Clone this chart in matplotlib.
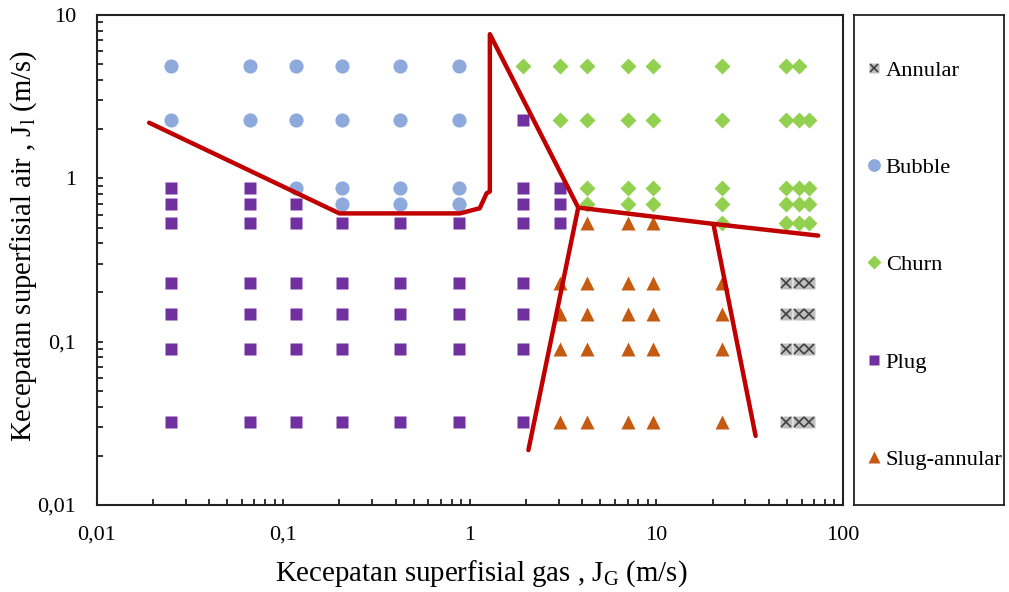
import matplotlib
matplotlib.use("Agg")
import matplotlib.pyplot as plt
from matplotlib.ticker import FixedLocator, FixedFormatter, LogLocator, NullFormatter

plt.rcParams['font.family'] = ['Liberation Serif', 'DejaVu Serif']
plt.rcParams['mathtext.fontset'] = 'custom'
plt.rcParams['mathtext.rm'] = 'Liberation Serif'

# ---- data (J_G, J_l in m/s) ----
bubble_x = [0.025, 0.066, 0.117, 0.206, 0.421, 0.874,
            0.025, 0.066, 0.117, 0.206, 0.421, 0.874,
            0.117, 0.206, 0.421, 0.874,
            0.206, 0.421, 0.874]
bubble_y = [4.88] * 6 + [2.28] * 6 + [0.877] * 4 + [0.697] * 3

plug_x = ([0.025] * 7 + [0.066] * 7 + [0.117] * 6 + [0.206] * 5 + [0.421] * 5
          + [0.874] * 5 + [1.93] * 8 + [3.04] * 3)
plug_y = ([0.877, 0.697, 0.535, 0.228, 0.147, 0.0899, 0.0324] * 2
          + [0.697, 0.535, 0.228, 0.147, 0.0899, 0.0324]
          + [0.535, 0.228, 0.147, 0.0899, 0.0324] * 3
          + [2.28, 0.877, 0.697, 0.535, 0.228, 0.147, 0.0899, 0.0324]
          + [0.877, 0.697, 0.535])

churn_x = ([1.93, 3.04, 4.24, 7.04, 9.58, 22.4, 49.4, 58.0]
           + [3.04, 4.24, 7.04, 9.58, 22.4, 49.4, 58.0, 65.6]
           + [4.24, 7.04, 9.58, 22.4, 49.4, 58.0, 65.6]
           + [4.24, 7.04, 9.58, 22.4, 49.4, 58.0, 65.6]
           + [22.4, 49.4, 58.0, 65.6])
churn_y = [4.88] * 8 + [2.28] * 8 + [0.877] * 7 + [0.697] * 7 + [0.535] * 4

slug_x = [4.24, 7.04, 9.58] + [3.04, 4.24, 7.04, 9.58, 22.4] * 4
slug_y = [0.535] * 3 + [0.228] * 5 + [0.147] * 5 + [0.0899] * 5 + [0.0324] * 5

annular_x = [49.4, 58.0, 65.6] * 4
annular_y = [0.228] * 3 + [0.147] * 3 + [0.0899] * 3 + [0.0324] * 3

# transition boundaries
b1_x = [0.0191, 0.20, 0.885, 1.13, 1.23, 1.28, 1.28, 3.81, 20.2, 73.6]
b1_y = [2.19, 0.61, 0.61, 0.656, 0.81, 0.83, 7.63, 0.662, 0.526, 0.446]
b2_x = [3.81, 2.06]
b2_y = [0.662, 0.0217]
b3_x = [20.2, 34.0]
b3_y = [0.526, 0.0265]

x_ticks = [0.01, 0.1, 1, 10, 100]
x_labels = ['0,01', '0,1', '1', '10', '100']
y_ticks = [0.01, 0.1, 1, 10]
y_labels = ['0,01', '0,1', '1', '10']

# ---- figure ----
W, H = 1009, 592
fig = plt.figure(figsize=(W / 100, H / 100), dpi=100)
ax = fig.add_axes([96.7 / W, 1 - 505 / H, (843 - 96.7) / W, (505 - 15) / H])

red = '#C00000'
for bx, by in [(b1_x, b1_y), (b2_x, b2_y), (b3_x, b3_y)]:
    ax.plot(bx, by, color=red, lw=3.2, solid_capstyle='round',
            solid_joinstyle='round', zorder=3)

h_bub, = ax.plot(bubble_x, bubble_y, 'o', ms=10.2, color='#8EA9DB', mec='none', zorder=2)
h_churn, = ax.plot(churn_x, churn_y, 'D', ms=8.3, color='#92D050', mec='none', zorder=2)
h_plug, = ax.plot(plug_x, plug_y, 's', ms=8.4, color='#7030A0', mec='none', zorder=2)
h_slug, = ax.plot(slug_x, slug_y, '^', ms=9.5, color='#C55A11', mec='none', zorder=2)
h_ann1, = ax.plot(annular_x, annular_y, 's', ms=8.6, color='#BFBFBF', mec='none', zorder=2)
h_ann2, = ax.plot(annular_x, annular_y, 'x', ms=7, color='#404040', mew=1.2, zorder=2)

ax.set_xscale('log')
ax.set_yscale('log')
ax.set_xlim(0.01, 100)
ax.set_ylim(0.01, 10)

ax.xaxis.set_major_locator(FixedLocator(x_ticks))
ax.xaxis.set_major_formatter(FixedFormatter(x_labels))
ax.yaxis.set_major_locator(FixedLocator(y_ticks))
ax.yaxis.set_major_formatter(FixedFormatter(y_labels))
ax.xaxis.set_minor_locator(LogLocator(base=10, subs=range(2, 10)))
ax.yaxis.set_minor_locator(LogLocator(base=10, subs=range(2, 10)))
ax.xaxis.set_minor_formatter(NullFormatter())
ax.yaxis.set_minor_formatter(NullFormatter())
ax.tick_params(which='both', direction='in', length=4, width=1.3, color='#222222')
ax.tick_params(which='major', labelsize=16)
ax.tick_params(axis='x', which='major', pad=15)
ax.tick_params(axis='y', which='major', pad=15)

for s in ax.spines.values():
    s.set_linewidth(1.5)
    s.set_color('#222222')

ax.set_xlabel(r'Kecepatan superfisial gas , J$\mathregular{_G}$ (m/s)', fontsize=20.8)
ax.set_ylabel(r'Kecepatan superfisial air , J$\mathregular{_l}$ (m/s)', fontsize=20.6)
ax.xaxis.set_label_coords(0.5156, -0.108)
ax.yaxis.set_label_coords(-0.077, 0.5286)

# ---- legend box ----
lax = fig.add_axes([854 / W, 1 - 505 / H, (1004 - 854) / W, (505 - 15) / H])
lax.set_xticks([])
lax.set_yticks([])
for s in lax.spines.values():
    s.set_linewidth(1.3)
    s.set_color('#222222')
lax.legend([(h_ann1, h_ann2), h_bub, h_churn, h_plug, h_slug],
           ['Annular', 'Bubble', 'Churn', 'Plug', 'Slug-annular'],
           loc='center left', frameon=False, fontsize=16.2, labelspacing=3.4,
           handlelength=0.6, handletextpad=0.25, borderaxespad=0.0,
           borderpad=0.3, markerscale=0.9, bbox_to_anchor=(0.04, 0.49))

fig.savefig('out.png', dpi=100)
